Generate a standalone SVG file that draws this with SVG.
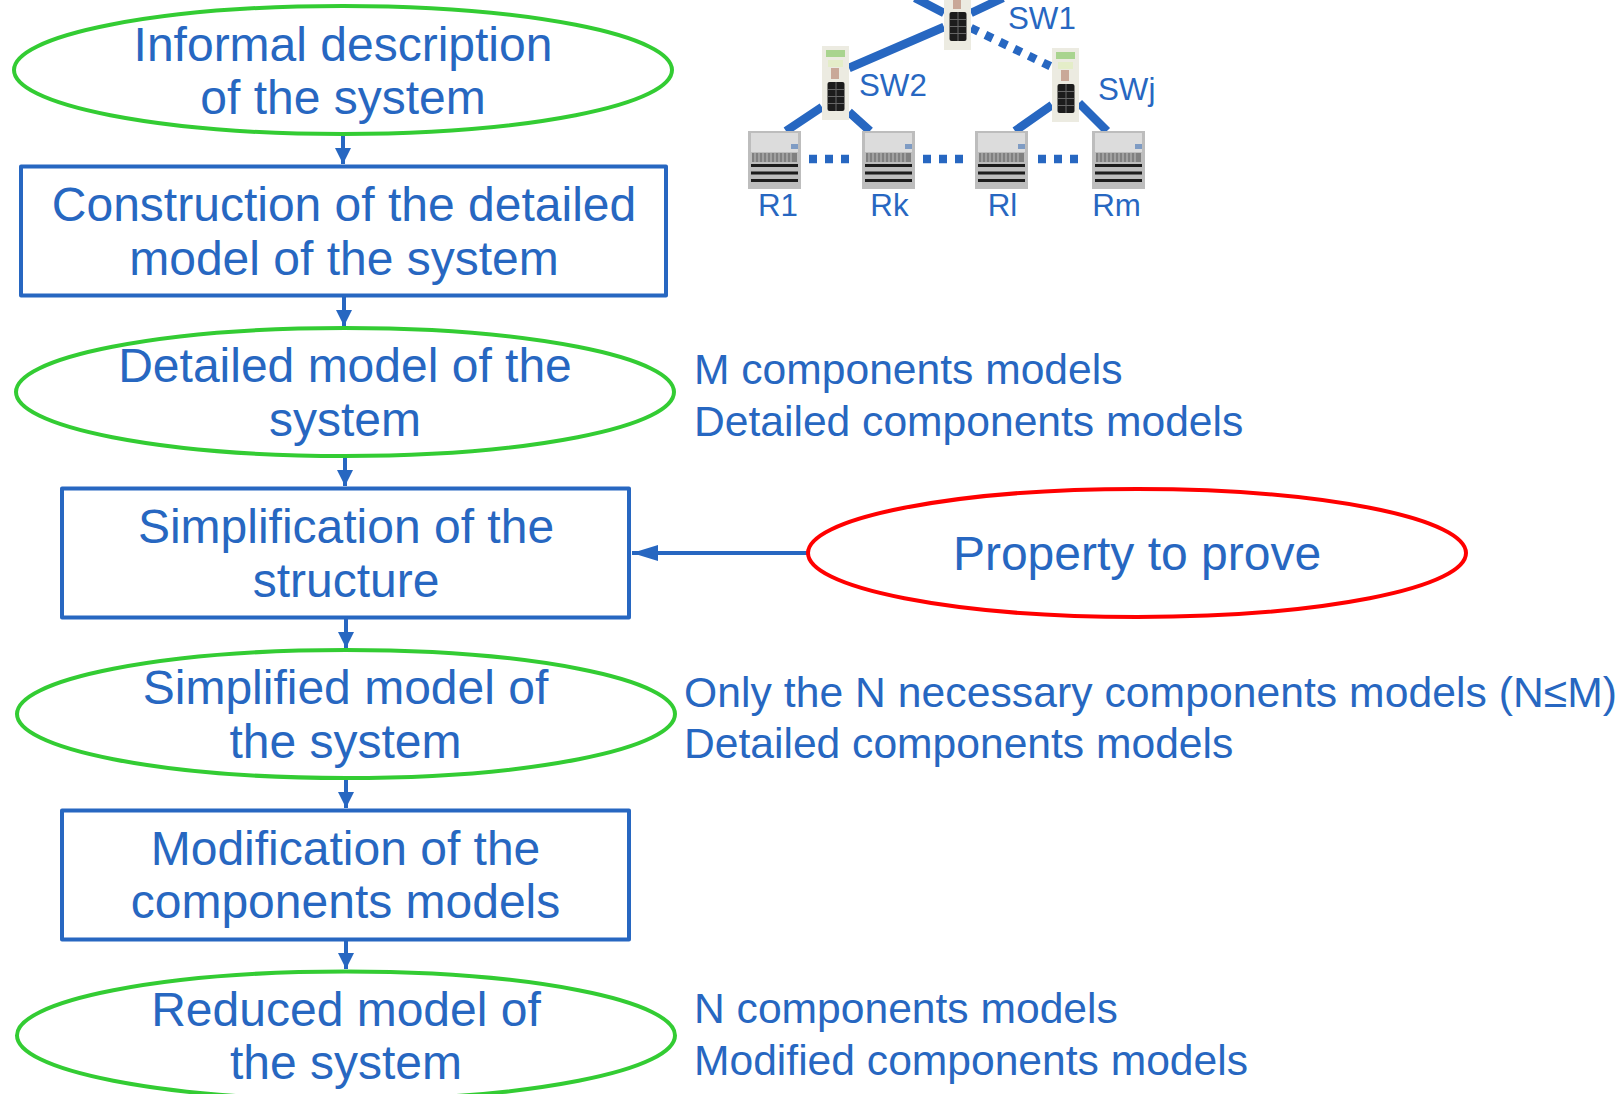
<svg xmlns="http://www.w3.org/2000/svg" width="1622" height="1094" viewBox="0 0 1622 1094">
<style>
text{font-family:"Liberation Sans",Arial,sans-serif;fill:#2767c1}
.n{font-size:48px;text-anchor:middle}
.s{font-size:42.600px}
.l{font-size:31.300px}
.g{fill:#fff;stroke:#33cc33;stroke-width:4}
.r{fill:#fff;stroke:#ff0000;stroke-width:4}
.b{fill:#fff;stroke:#2767c1;stroke-width:4;stroke-linejoin:round}
.c{fill:none;stroke:#2767c1;stroke-width:4}
.t{fill:none;stroke:#2767c1;stroke-width:8.500}
.d{stroke-dasharray:8 8}
</style>
<defs>
<filter id="soft" x="-10%" y="-10%" width="120%" height="120%"><feGaussianBlur stdDeviation="0.600"/></filter>
<marker id="a" markerUnits="userSpaceOnUse" markerWidth="16" markerHeight="16" refX="16" refY="8" orient="auto"><path d="M0 0L16 8L0 16Z" fill="#2767c1"/></marker>
<marker id="al" markerUnits="userSpaceOnUse" markerWidth="26" markerHeight="16" refX="26" refY="8" orient="auto"><path d="M0 0L26 8L0 16Z" fill="#2767c1"/></marker>
<g id="sw" filter="url(#soft)"><rect width="27" height="74" fill="#ecebe1"/><rect x="4" y="4" width="19" height="7" fill="#a9d48f"/><rect x="6" y="14" width="15" height="7" fill="#e4edc8"/><rect x="9" y="22" width="8" height="11" fill="#c9a898"/><rect x="5.500" y="36" width="17" height="29" rx="2" fill="#1f1f1f"/><path d="M6 43.500H22M6 50.500H22M6 57.500H22M14 36V65" stroke="#666" stroke-width="1"/></g>
<g id="rt" filter="url(#soft)"><rect width="53" height="58" fill="#bdbdbd"/><rect x="3" y="2" width="47" height="19" fill="#dcdcdc"/><rect x="43" y="13" width="7" height="5" fill="#7f9cc4"/><rect x="4" y="22" width="45" height="9" fill="#808080"/><path d="M7 22V31M11 22V31M15 22V31M19 22V31M23 22V31M27 22V31M31 22V31M35 22V31M39 22V31M43 22V31" stroke="#c0c0c0" stroke-width="1"/><path d="M3 34.500H50M3 42H50M3 49.500H50" stroke="#1a1a1a" stroke-width="3"/></g>
</defs>
<g id="connectors">
<path class="c" d="M343 135V164" marker-end="url(#a)"/>
<path class="c" d="M344 297V326" marker-end="url(#a)"/>
<path class="c" d="M345 456V486" marker-end="url(#a)"/>
<path class="c" d="M346 618V648" marker-end="url(#a)"/>
<path class="c" d="M346 779V808" marker-end="url(#a)"/>
<path class="c" d="M346 940V969" marker-end="url(#a)"/>
<path class="c" d="M808 553H632" marker-end="url(#al)"/>
<path class="t" d="M915 -2L944 13M971 13L1003 -2M944 27L849 68M822 107L786 131M849 112L870 131M1052 105L1015 131M1079 103L1107 131"/>
<path class="t d" d="M971 28L1052 67M809 159H850M923 159H964M1038 159H1079"/>
</g>
<g id="sw1"><use href="#sw" x="944" y="-24"/><text class="l" x="1008" y="29">SW1</text></g>
<g id="sw2"><use href="#sw" x="822" y="46"/><text class="l" x="859" y="96">SW2</text></g>
<g id="swj"><use href="#sw" x="1052" y="48"/><text class="l" x="1098" y="100">SWj</text></g>
<g id="r1"><use href="#rt" x="748" y="131"/><text class="l" x="778" y="216" text-anchor="middle">R1</text></g>
<g id="rk"><use href="#rt" x="862" y="131"/><text class="l" x="889.500" y="216" text-anchor="middle">Rk</text></g>
<g id="rl"><use href="#rt" x="975" y="131"/><text class="l" x="1002.500" y="216" text-anchor="middle">Rl</text></g>
<g id="rm"><use href="#rt" x="1092" y="131"/><text class="l" x="1116.500" y="216" text-anchor="middle">Rm</text></g>
<g id="informal"><ellipse class="g" cx="343" cy="70" rx="329" ry="64"/><text class="n" x="343" y="60.500">Informal description</text><text class="n" x="343" y="113.500">of the system</text></g>
<g id="construction"><rect class="b" x="21" y="166.500" width="645" height="129"/><text class="n" x="344" y="220.500">Construction of the detailed</text><text class="n" x="344" y="274.500">model of the system</text></g>
<g id="detailed"><ellipse class="g" cx="345" cy="392" rx="329" ry="64"/><text class="n" x="345" y="381.700">Detailed model of the</text><text class="n" x="345" y="435.700">system</text></g>
<g id="simplification"><rect class="b" x="62" y="488.500" width="567" height="129"/><text class="n" x="346" y="542.700">Simplification of the</text><text class="n" x="346" y="596.700">structure</text></g>
<g id="simplified"><ellipse class="g" cx="346" cy="714" rx="329" ry="64"/><text class="n" x="345.500" y="703.700">Simplified model of</text><text class="n" x="345.500" y="757.700">the system</text></g>
<g id="modification"><rect class="b" x="62" y="810.500" width="567" height="129"/><text class="n" x="345.500" y="864.700">Modification of the</text><text class="n" x="345.500" y="917.700">components models</text></g>
<g id="reduced"><ellipse class="g" cx="346" cy="1035.500" rx="329" ry="64"/><text class="n" x="346" y="1025.700">Reduced model of</text><text class="n" x="346" y="1078.700">the system</text></g>
<g id="property"><ellipse class="r" cx="1137" cy="553" rx="329" ry="64"/><text class="n" x="1137" y="569.700">Property to prove</text></g>
<g id="notes">
<text class="s" x="694" y="383.500">M components models</text><text class="s" x="694" y="435.500">Detailed components models</text>
<text class="s" x="684" y="706.500" textLength="933">Only the N necessary components models (N≤M)</text><text class="s" x="684" y="757.500">Detailed components models</text>
<text class="s" x="694" y="1022.500">N components models</text><text class="s" x="694" y="1074.500">Modified components models</text>
</g>
</svg>
